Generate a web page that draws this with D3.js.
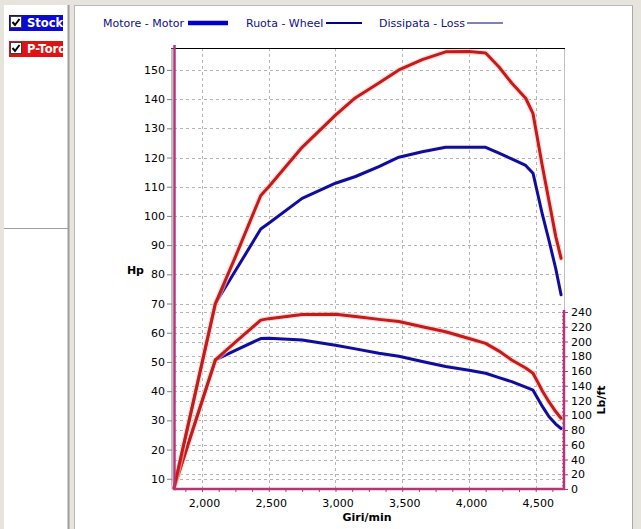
<!DOCTYPE html>
<html>
<head>
<meta charset="utf-8">
<script src="https://cdn.jsdelivr.net/npm/d3@7/dist/d3.min.js"></script>
<style>
html,body{margin:0;padding:0;background:#e6e4dc;}
svg{display:block;}
text{font-family:"DejaVu Sans",Verdana,sans-serif;}
</style>
</head>
<body>
<svg id="c" width="641" height="529"></svg>
<script>
// ---- data ----
const rpm = [1790, 2100, 2250, 2440, 2500, 2750, 3000, 3150, 3325, 3475, 3650, 3825, 4000, 4125, 4225, 4320, 4425, 4480, 4550, 4600, 4650, 4690];
const stockHp   = [6.8, 70, 81.2, 95.5, 97.5, 106, 111.2, 113.5, 116.9, 120.1, 122, 123.5, 123.5, 123.5, 121.5, 119.5, 117.3, 114.6, 100.5, 91.5, 82, 73];
const ptorHp    = [6.8, 70, 86, 107, 110, 123.5, 134.5, 140.5, 145.5, 150, 153.5, 156.2, 156.3, 155.8, 151, 145.5, 140.3, 135, 117, 105, 93, 85.5];
const stockTq   = [1.5, 175, 188, 204, 204.5, 202, 195, 190, 184, 180, 173, 166, 161, 157, 151, 145.5, 138, 134, 112, 98, 88, 82];
const ptorTq    = [1.5, 175, 199, 229, 231, 236.5, 237, 234, 230, 227, 220, 213.3, 204, 197.5, 187, 175, 164, 157, 133, 118, 105, 96];
const hpTicks   = [10, 20, 30, 40, 50, 60, 70, 80, 90, 100, 110, 120, 130, 140, 150];
const tqTicks   = [0, 20, 40, 60, 80, 100, 120, 140, 160, 180, 200, 220, 240];
const rpmTicks  = [2000, 2500, 3000, 3500, 4000, 4500];
const legendItems = ["Motore - Motor", "Ruota - Wheel", "Dissipata - Loss"];
const runs = ["Stock", "P-Torque"];

// ---- layout ----
const svg = d3.select("#c");
const X0 = 174, X1 = 564, YT = 48, YB = 489, YR = 312;
const x = d3.scaleLinear().domain([1790, 4712]).range([X0, X1]);
const yHp = d3.scaleLinear().domain([6.5, 157.5]).range([YB, YT]);
const yTq = d3.scaleLinear().domain([0, 240]).range([YB, YR]);

// window chrome
svg.append("rect").attr("x",0).attr("y",0).attr("width",641).attr("height",529).attr("fill","#e6e4dc");
svg.append("rect").attr("x",4).attr("y",5).attr("width",64).attr("height",524).attr("fill","#ffffff");
svg.append("line").attr("x1",68.5).attr("x2",68.5).attr("y1",5).attr("y2",529).attr("stroke","#9d9d9d").attr("stroke-width",2);
svg.append("line").attr("x1",4).attr("x2",68).attr("y1",228.5).attr("y2",228.5).attr("stroke","#a0a0a0");
svg.append("rect").attr("x",74).attr("y",5).attr("width",558).attr("height",524).attr("fill","#ffffff");
svg.append("line").attr("x1",74.5).attr("x2",74.5).attr("y1",5).attr("y2",529).attr("stroke","#b8b8b8");
svg.append("line").attr("x1",632.5).attr("x2",632.5).attr("y1",5).attr("y2",529).attr("stroke","#a8a8a8");
svg.append("line").attr("x1",74).attr("x2",633).attr("y1",5.5).attr("y2",5.5).attr("stroke","#b8b8b8");

// run selector boxes
const runCol = ["#0a0ad0", "#e01212"];
svg.append("clipPath").attr("id","clipRun").append("rect").attr("x",9).attr("y",0).attr("width",54).attr("height",80);
runs.forEach((r,i)=>{
  const y0 = 15 + i*26;
  const g = svg.append("g");
  g.append("rect").attr("x",9).attr("y",y0).attr("width",54).attr("height",16).attr("fill",runCol[i]);
  g.append("rect").attr("x",10.5).attr("y",y0+1.5).attr("width",11).attr("height",11).attr("fill","#fff").attr("stroke","#404040");
  g.append("path").attr("d",`M${12.5},${y0+7} l2.5,3 l4.5,-6`).attr("fill","none").attr("stroke","#000").attr("stroke-width",2);
  g.append("text").attr("x",27).attr("y",y0+12).attr("fill","#fff").attr("font-size",11.5).attr("font-weight","bold")
    .attr("clip-path","url(#clipRun)").text(r);
});

// legend
const legX = [103, 246, 379];
const legLine = [{x1:188,x2:228,w:4.5,c:"#0000d0"},{x1:326,x2:362,w:2,c:"#000090"},{x1:467,x2:503,w:1,c:"#000080"}];
legendItems.forEach((t,i)=>{
  svg.append("text").attr("x",legX[i]).attr("y",27).attr("font-size",11).attr("fill","#10108a").text(t);
  svg.append("line").attr("x1",legLine[i].x1).attr("x2",legLine[i].x2).attr("y1",23).attr("y2",23)
    .attr("stroke",legLine[i].c).attr("stroke-width",legLine[i].w);
});

// grid
const grid = svg.append("g").attr("stroke","#b4b4b4").attr("stroke-dasharray","3,3").attr("stroke-width",1);
hpTicks.forEach(v=>grid.append("line").attr("x1",X0).attr("x2",X1).attr("y1",Math.round(yHp(v))+0.5).attr("y2",Math.round(yHp(v))+0.5));
tqTicks.slice(1).forEach(v=>grid.append("line").attr("x1",X0).attr("x2",X1).attr("y1",Math.round(yTq(v))+0.5).attr("y2",Math.round(yTq(v))+0.5));
rpmTicks.forEach(v=>grid.append("line").attr("x1",Math.round(x(v))+0.5).attr("x2",Math.round(x(v))+0.5).attr("y1",YT).attr("y2",YB));

// frame
svg.append("line").attr("x1",X1+0.5).attr("x2",X1+0.5).attr("y1",YT).attr("y2",YR).attr("stroke","#c0c0c0");
svg.append("line").attr("x1",171).attr("x2",X1+1).attr("y1",YT+0.5).attr("y2",YT+0.5).attr("stroke","#000");

// left axis (Hp)
const axL = svg.append("g").attr("transform","translate(172,0)")
  .call(d3.axisLeft(yHp).tickValues(hpTicks).tickSize(5).tickPadding(2).tickFormat(d3.format("d")));
axL.select(".domain").attr("stroke","#808080").attr("d",`M0,${YT}V${YB}`);
axL.selectAll(".tick line").attr("stroke","#808080");
axL.selectAll("text").attr("font-size",11).attr("font-family","DejaVu Sans").attr("fill","#000");
svg.append("text").attr("x",144).attr("y",274).attr("text-anchor","end").attr("font-size",11).attr("font-weight","bold").text("Hp");

// bottom axis (rpm)
const axB = svg.append("g").attr("transform",`translate(0,${YB})`)
  .call(d3.axisBottom(x).tickValues(d3.range(1875, 4712, 125)).tickSize(3).tickFormat(""));
axB.select(".domain").remove();
axB.selectAll(".tick line").attr("stroke","#b03a7a");
const axB2 = svg.append("g").attr("transform",`translate(2,${YB})`)
  .call(d3.axisBottom(x).tickValues(rpmTicks).tickSize(0).tickPadding(10).tickFormat(d3.format(",")));
axB2.select(".domain").remove();
axB2.selectAll("text").attr("font-size",11).attr("font-family","DejaVu Sans").attr("fill","#000");
svg.append("text").attr("x",367).attr("y",521).attr("text-anchor","middle").attr("font-size",11).attr("font-weight","bold").text("Giri/min");

// right axis (lb/ft)
const axR = svg.append("g").attr("transform",`translate(${X1},0)`)
  .call(d3.axisRight(yTq).tickValues(tqTicks).tickSize(4).tickPadding(3));
axR.select(".domain").remove();
axR.selectAll(".tick line").attr("stroke","#b03a7a");
axR.selectAll("text").attr("font-size",11).attr("font-family","DejaVu Sans").attr("fill","#000");
const axRm = svg.append("g").attr("transform",`translate(${X1},0)`)
  .call(d3.axisLeft(yTq).tickValues(d3.range(0, 241, 5)).tickSize(2).tickFormat(""));
axRm.select(".domain").remove();
axRm.selectAll(".tick line").attr("stroke","#b03a7a");
svg.append("text").attr("transform","translate(605,400) rotate(-90)").attr("text-anchor","middle")
  .attr("font-size",11).attr("font-weight","bold").text("Lb/ft");

// curves
const lineHp = d3.line().x((d,i)=>x(rpm[i])).y(d=>yHp(d));
const lineTq = d3.line().x((d,i)=>x(rpm[i])).y(d=>yTq(d));
const curves = svg.append("g").attr("fill","none").attr("stroke-linejoin","round").attr("stroke-linecap","round");
function draw(vals, gen, col, halo){
  curves.append("path").attr("d",gen(vals)).attr("stroke",halo).attr("stroke-width",5.5).attr("opacity",0.6);
  curves.append("path").attr("d",gen(vals)).attr("stroke",col).attr("stroke-width",3);
}
draw(stockTq, lineTq, "#0d0da6", "#fff6c8");
draw(stockHp, lineHp, "#0d0da6", "#fff6c8");
draw(ptorTq, lineTq, "#c41a1a", "#ffc4c4");
draw(ptorHp, lineHp, "#c41a1a", "#ffc4c4");

// pink axis lines
const pink = svg.append("g").attr("stroke","#b5347a").attr("stroke-width",2.5).attr("fill","none");
pink.append("line").attr("x1",X0+0.5).attr("x2",X0+0.5).attr("y1",45).attr("y2",YB+1);
pink.append("line").attr("x1",X0).attr("x2",X1+1).attr("y1",YB).attr("y2",YB);
pink.append("line").attr("x1",X1).attr("x2",X1).attr("y1",YR-2).attr("y2",YB+1);
</script>
</body>
</html>
